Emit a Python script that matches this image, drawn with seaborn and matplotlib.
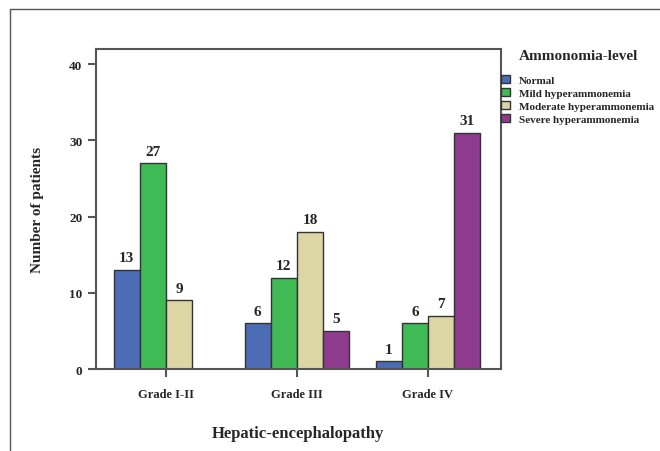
import matplotlib.pyplot as plt
import pandas as pd
import seaborn as sns
from matplotlib.lines import Line2D

grades = ['Grade I-II', 'Grade III', 'Grade IV']
levels = ['Normal', 'Mild hyperammonemia', 'Moderate hyperammonemia', 'Severe hyperammonemia']
normal = [13, 6, 1]
mild = [27, 12, 6]
moderate = [9, 18, 7]
severe = [0, 5, 31]
colors = ['#4d6cb6', '#3fba55', '#dbd6a4', '#8e3b8e']

rows = []
for level, vals in zip(levels, [normal, mild, moderate, severe]):
    for g, v in zip(grades, vals):
        rows.append({'grade': g, 'level': level, 'count': v})
df = pd.DataFrame(rows)

sns.set_style('white')
plt.rcParams['font.family'] = ['Liberation Serif', 'DejaVu Serif']
plt.rcParams['font.weight'] = 'bold'

fig = plt.figure(figsize=(6.6, 4.52), dpi=100)
ax = fig.add_axes([0.145, 0.1814, 0.614, 0.708])

sns.barplot(data=df, x='grade', y='count', hue='level', order=grades, hue_order=levels,
            palette=colors, edgecolor='#333333', linewidth=1, saturation=1, width=0.8, ax=ax)

for cont in ax.containers:
    labs = ['' if v == 0 else f'{int(v)}' for v in cont.datavalues]
    ax.bar_label(cont, labels=labs, padding=4, fontsize=11, fontweight='bold')

ax.set_xlim(-0.537, 2.557)
ax.set_ylim(0, 42)
ax.set_yticks([0, 10, 20, 30, 40])
ax.tick_params(axis='both', bottom=True, left=True, direction='out', length=5.5,
               width=1.5, color='#555555')
ax.tick_params(axis='y', labelsize=9.5, pad=4)
ax.tick_params(axis='x', labelsize=9, pad=8.5)
for lab in ax.get_xticklabels() + ax.get_yticklabels():
    lab.set_fontweight('bold')
for sp in ax.spines.values():
    sp.set_color('#555555')
    sp.set_linewidth(1.5)

ax.set_xlabel('Hepatic-encephalopathy', fontsize=12, fontweight='bold', labelpad=18)
ax.set_ylabel('Number of patients', fontsize=11, fontweight='bold', labelpad=18)

handles, labels = ax.get_legend_handles_labels()
ax.get_legend().remove()
fig.legend(handles, labels, loc='upper left', bbox_to_anchor=(0.759, 0.832), frameon=False,
           handlelength=0.8, handleheight=0.8, handletextpad=0.8,
           labelspacing=0.25, borderaxespad=0, borderpad=0, prop={'weight': 'bold', 'size': 8})
fig.text(0.786, 0.876, 'Ammonomia-level', fontsize=11, fontweight='bold', va='center', ha='left')

fig.add_artist(Line2D([10 / 660, 1], [1 - 10 / 452, 1 - 10 / 452], color='#555555', lw=1))
fig.add_artist(Line2D([10 / 660, 10 / 660], [0, 1 - 10 / 452], color='#555555', lw=1))

fig.savefig('out.png', dpi=100)
